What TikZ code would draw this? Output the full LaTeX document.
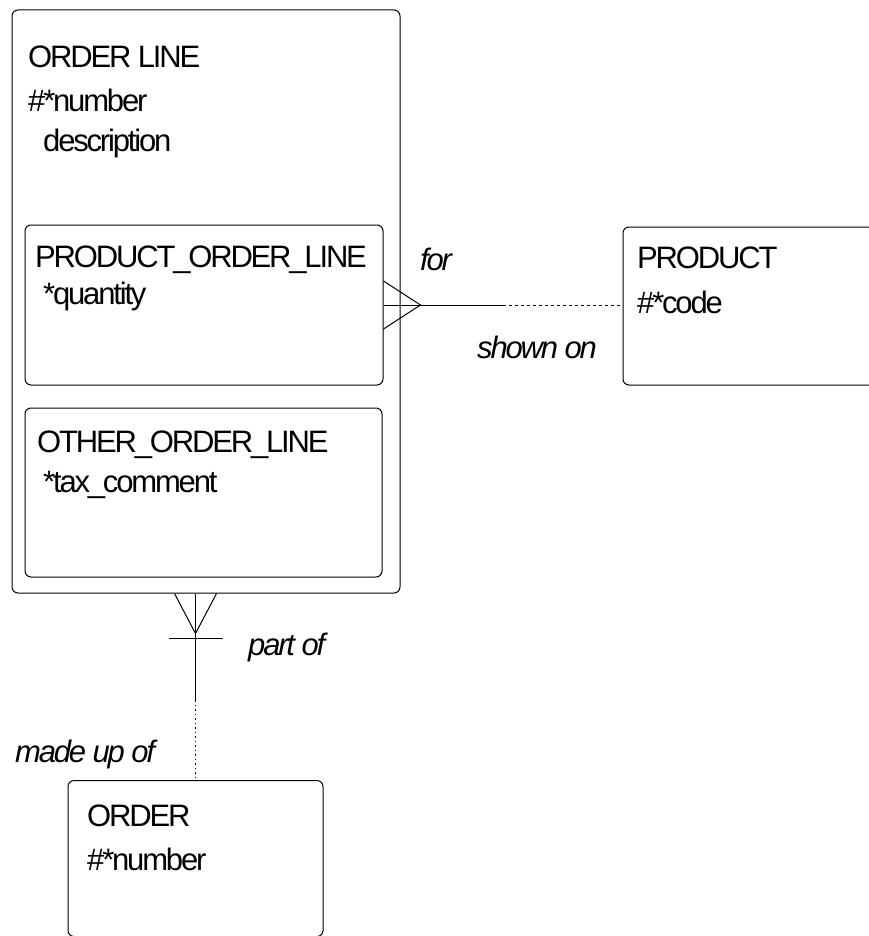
\documentclass[tikz,border=0pt]{standalone}
\usepackage{fontspec}
\setmainfont{Liberation Sans}[LetterSpace=-7]
\usetikzlibrary{calc}

\begin{document}
\begin{tikzpicture}[x=1pt,y=-1pt,
    entity/.style={draw,rounded corners=6pt,line width=1pt,inner sep=0pt},
    txt/.style={anchor=base west,inner sep=0pt,font=\fontsize{31}{36}\selectfont},
    role/.style={txt,font=\fontsize{31}{36}\selectfont\itshape},
    rel/.style={line width=1pt},
    optrel/.style={line width=0.8pt,dash pattern=on 3pt off 3pt},
    dotrel/.style={line width=0.6pt,dash pattern=on 1.5pt off 3pt}]
\useasboundingbox (0,0) rectangle (868,936);

% entities
\node[entity,minimum width=388pt,minimum height=583pt] (orderline) at (206,301.5) {};
\node[entity,minimum width=358pt,minimum height=160pt] (prodline) at (204,305) {};
\node[entity,minimum width=357pt,minimum height=169pt] (otherline) at (203.5,492.5) {};
\node[entity,minimum width=270pt,minimum height=158pt] (product) at (758,306) {};
\node[entity,minimum width=255pt,minimum height=156pt] (order) at (195.5,858.5) {};

% texts
\node[txt] (ol-name) at (28,68) {ORDER LINE};
\node[txt] (ol-num) at (28,112) {\#*number};
\node[txt] (ol-desc) at (43,152) {description};
\node[txt] (pl-name) at (35,267) {PRODUCT\_ORDER\_LINE};
\node[txt] (pl-qty) at (43,304) {*quantity};
\node[txt] (xl-name) at (37,452) {OTHER\_ORDER\_LINE};
\node[txt] (xl-tax) at (43,492) {*tax\_comment};
\node[txt] (p-name) at (637,268) {PRODUCT};
\node[txt] (p-code) at (637,313) {\#*code};
\node[txt] (o-name) at (87,826) {ORDER};
\node[txt] (o-num) at (87,870) {\#*number};

% relationship: order line - product
\coordinate (forsplit) at (503,305);
\draw[rel] (prodline.east) -- (forsplit);
\draw[optrel] (forsplit) -- (product.west |- forsplit);
\draw[rel] ($(prodline.east)+(0,-24)$) -- ($(prodline.east)+(37,0)$) -- ($(prodline.east)+(0,24)$);
\node[role] (for) at (420,270) {for};
\node[role] (shownon) at (477,358) {shown on};

% relationship: order line - order
\coordinate (foot) at (order.north |- orderline.south);
\coordinate (partsplit) at (195.5,700);
\draw[rel] (foot) -- (partsplit);
\draw[dotrel] (partsplit) -- (order.north);
\draw[rel] ($(foot)+(-21,0)$) -- ($(foot)+(0,40)$) -- ($(foot)+(21,0)$);
\draw[rel] ($(foot)+(-27,45)$) -- ($(foot)+(27,45)$);
\node[role] (partof) at (248,655) {part of};
\node[role] (madeupof) at (15,762) {made up of};
\end{tikzpicture}
\end{document}
